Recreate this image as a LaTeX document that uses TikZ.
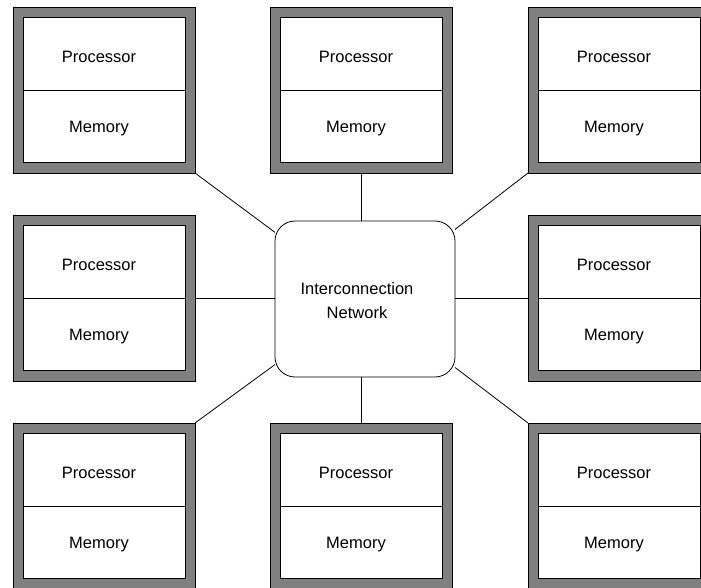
\documentclass[tikz,border=0pt]{standalone}
\usepackage{fontspec}
\setmainfont{Liberation Sans}
\definecolor{boxgray}{RGB}{128,128,128}
\begin{document}
\begin{tikzpicture}[x=1pt,y=-1pt,
  frame/.style={draw=black, fill=boxgray, line width=0.8pt, minimum width=182pt, minimum height=166pt, inner sep=0pt, outer sep=0pt},
  cell/.style={draw=black, fill=white, line width=0.8pt, minimum width=162pt, minimum height=72.5pt, inner sep=0pt, outer sep=0pt},
  lbl/.style={font=\fontsize{16.5}{24}\selectfont, inner sep=0pt},
  netbox/.style={draw=black, fill=white, rounded corners=20pt, minimum width=180pt, minimum height=156pt, line width=0.8pt, inner sep=0pt, outer sep=0pt},
  link/.style={draw=black, line width=0.8pt}]
\useasboundingbox (0,0) rectangle (701,588);
\foreach \n/\x/\y in {tl/104/90, tm/361/90, tr/619/90, ml/104/298, mr/619/298, bl/104/506, bm/361/506, br/619/506}{
  \node[frame] (b\n) at (\x,\y) {};
  \node[cell] (p\n) at (\x,\y-36.25) {};
  \node[cell] (m\n) at (\x,\y+36.25) {};
  \node[lbl] (pt\n) at (\x-5,\y-33) {Processor};
  \node[lbl] (mt\n) at (\x-5,\y+39) {Memory};
}
\node[netbox] (net) at (365,299) {};
\node[lbl, align=center] (nettext) at (357,301) {Interconnection\\Network};
\draw[link] (btm.south) -- (btm.south |- net.north);
\draw[link] (bbm.north) -- (bbm.north |- net.south);
\draw[link] (bml.east) -- (bml.east -| net.west);
\draw[link] (bmr.west) -- (bmr.west -| net.east);
\draw[link] (btl.south east) -- (net);
\draw[link] (btr.south west) -- (net);
\draw[link] (bbl.north east) -- (net);
\draw[link] (bbr.north west) -- (net);
\end{tikzpicture}
\end{document}
